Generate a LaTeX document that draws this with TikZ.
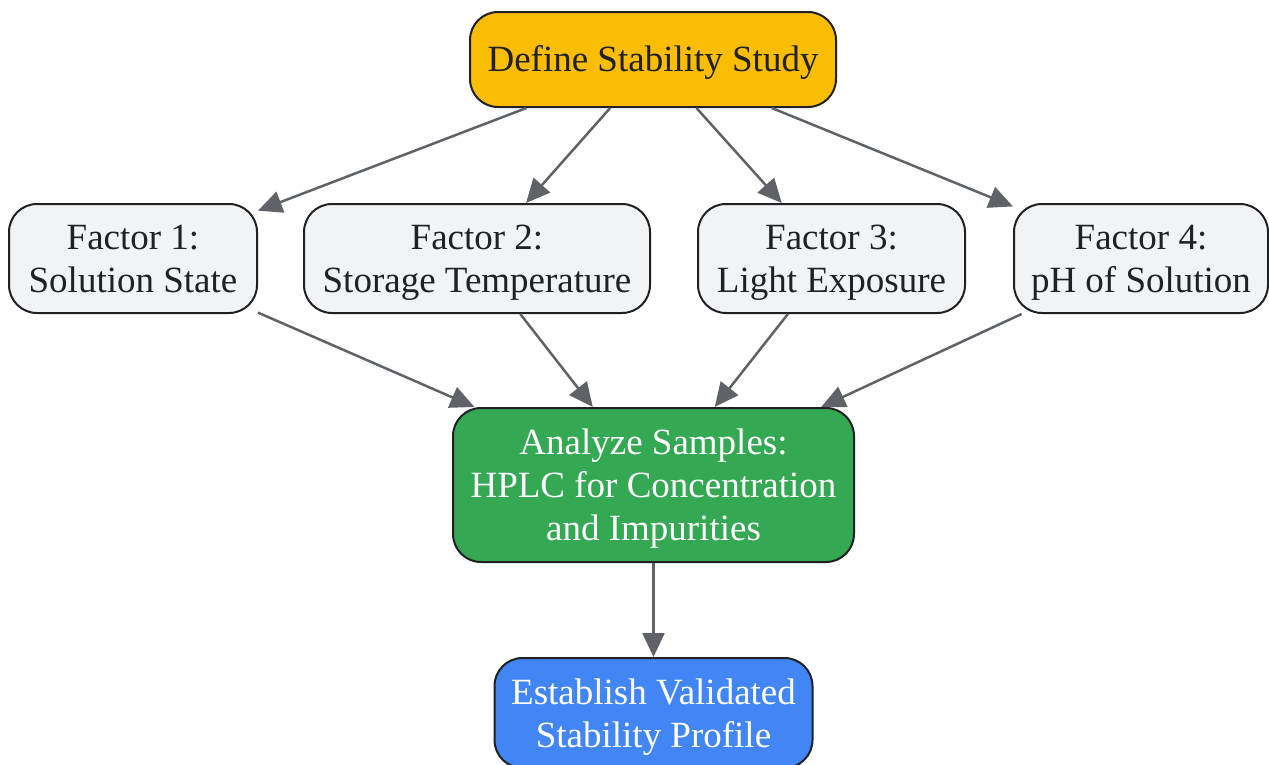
\documentclass[tikz,border=0pt]{standalone}
\usepackage{fontspec}
\setmainfont{Liberation Serif}
\usetikzlibrary{calc,arrows.meta}

\definecolor{topfill}{HTML}{FBBC04}
\definecolor{factorfill}{HTML}{F1F3F4}
\definecolor{anafill}{HTML}{34A853}
\definecolor{estfill}{HTML}{4285F4}
\definecolor{boxline}{HTML}{202124}
\definecolor{arrowgray}{HTML}{5F6368}

% line box of the browser font: ascent + descent
\newcommand{\bs}{\rule[-0.216em]{0pt}{1.107em}}

\tikzset{
  box/.style={rectangle, rounded corners=28pt, draw=boxline, line width=2pt,
    align=center, font=\fontsize{37}{43}\selectfont, inner sep=0pt},
  darktext/.style={text=boxline},
  lighttext/.style={text=white},
  flow/.style={draw=arrowgray, line width=2.5pt,
    -{Triangle[length=24pt, width=22pt]}}
}

\begin{document}
\begin{tikzpicture}[x=1pt, y=-1pt]

\useasboundingbox (0,0) rectangle (1269,764);

\node[box, darktext, fill=topfill, minimum width=366pt, minimum height=95pt] (define) at (653,59.5) {\bs Define Stability Study\bs};

\node[box, darktext, fill=factorfill, minimum width=248pt, minimum height=109pt] (factor1) at ($(define) + (-520, 199)$) {\bs Factor 1:\\Solution State\bs};

\node[box, darktext, fill=factorfill, minimum width=346pt, minimum height=109pt] (factor2) at ($(define) + (-176, 199)$) {\bs Factor 2:\\Storage Temperature\bs};

\node[box, darktext, fill=factorfill, minimum width=267pt, minimum height=109pt] (factor3) at ($(define) + (178.5, 199)$) {\bs Factor 3:\\Light Exposure\bs};

\node[box, darktext, fill=factorfill, minimum width=254pt, minimum height=109pt] (factor4) at ($(define) + (488, 199)$) {\bs Factor 4:\\pH of Solution\bs};

\node[box, lighttext, fill=anafill, minimum width=401pt, minimum height=154pt] (analyze) at ($(define) + (0.5, 425.5)$) {\bs Analyze Samples:\\HPLC for Concentration\\and Impurities\bs};

\node[box, lighttext, fill=estfill, minimum width=318pt, minimum height=110pt] (establish) at ($(analyze) + (0, 228)$) {\bs Establish Validated\\Stability Profile\bs};

\foreach \f in {factor1,factor2,factor3,factor4} {
  \draw[flow] (define) -- (\f);
  \draw[flow] (\f) -- (analyze);
}

\draw[flow] (analyze) -- (establish);

\end{tikzpicture}
\end{document}
